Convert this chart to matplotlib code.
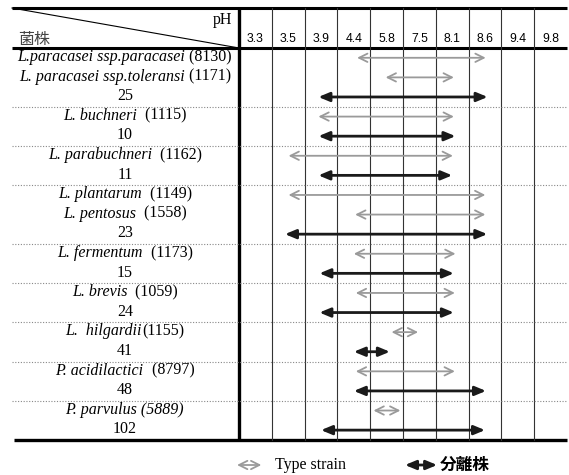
import matplotlib.pyplot as plt
from matplotlib.offsetbox import TextArea, HPacker, AnnotationBbox

# ---- データ ----
ph_labels = ['3.3', '3.5', '3.9', '4.4', '5.8', '7.5', '8.1', '8.6', '9.4', '9.8']

# 斜体部分 / 立体部分
row_species = ['L.paracasei ssp.paracasei', 'L. paracasei ssp.toleransi', '',
               'L. buchneri', '', 'L. parabuchneri', '', 'L. plantarum', 'L. pentosus', '',
               'L. fermentum', '', 'L. brevis', '', 'L.  hilgardii', '',
               'P. acidilactici', '', 'P. parvulus (5889)', '']
row_codes = [' (8130)', ' (1171)', '25', '  (1115)', '10', '  (1162)', '11', '  (1149)',
             '  (1558)', '23', '  (1173)', '15', '  (1059)', '24', '(1155)', '41',
             '  (8797)', '48', '', '102']
# 'type' = Type strain (gray), 'iso' = 分離株 (black)
row_kind = ['type', 'type', 'iso', 'type', 'iso', 'type', 'iso', 'type', 'type', 'iso',
            'type', 'iso', 'type', 'iso', 'type', 'iso', 'type', 'iso', 'type', 'iso']
# arrow start / end in column units (0 = left edge of 3.3 column)
arrow_start = [3.6, 4.47, 2.42, 2.42, 2.42, 1.51, 2.42, 1.51, 3.54, 1.4,
               3.5, 2.45, 3.56, 2.45, 4.65, 3.5, 3.56, 3.5, 4.1, 2.5]
arrow_end = [7.52, 6.55, 7.58, 6.55, 6.6, 6.52, 6.5, 7.51, 7.51, 7.57,
             6.6, 6.55, 6.58, 6.55, 5.46, 4.6, 6.58, 7.53, 4.92, 7.5]
group_breaks = [3, 5, 7, 10, 12, 14, 16, 18]

plt.rcParams['font.family'] = ['Liberation Serif', 'Noto Sans CJK JP']

fig = plt.figure(figsize=(5.69, 4.75), dpi=100)
ax = fig.add_axes([0, 0, 1, 1])
ax.set_xlim(-7.287, 10.06)
ax.set_ylim(21.79, -2.449)
ax.axis('off')

n_rows = len(row_species)
n_cols = len(ph_labels)
left = -6.92
top = -2.04
gray = '#9a9a9a'
dark = '#1a1a1a'
fs = 11.5

type_style = dict(arrowstyle='<->,head_length=0.6,head_width=0.3', color=gray,
                  lw=1.3, shrinkA=0, shrinkB=0)
iso_style = dict(arrowstyle='<|-|>,head_length=0.65,head_width=0.27', color=dark,
                 lw=2.0, shrinkA=0, shrinkB=0)

# 枠線
ax.plot([left, n_cols], [top, top], color='black', lw=2.2, solid_capstyle='butt')
ax.plot([left, n_cols], [0, 0], color='black', lw=2.2, solid_capstyle='butt')
ax.plot([left + 0.06, n_cols], [n_rows, n_rows], color='black', lw=2.4, solid_capstyle='butt')
ax.plot([0, 0], [top, n_rows], color='black', lw=2.4, solid_capstyle='butt')
for i in range(1, n_cols):
    ax.plot([i, i], [top, n_rows], color='#333333', lw=0.8)

# 斜線ヘッダー
ax.plot([left, 0], [top, 0], color='black', lw=0.8)
ax.text(-0.2, -1.43, 'pH', ha='right', va='center', fontsize=fs)
ax.text(-6.74, -0.41, '菌株', ha='left', va='center', fontsize=11.5,
        family=['Noto Sans CJK JP'], color='#444444')
for i, lab in enumerate(ph_labels):
    ax.text(i + 0.5, -0.45, lab, ha='center', va='center', fontsize=8.8,
            family=['Liberation Sans'])

# 点線区切り
for b in group_breaks:
    ax.plot([left, n_cols], [b, b], color='#888888', lw=0.8, linestyle=(0, (1, 1.5)))

# 行ラベルと矢印
for r in range(n_rows):
    y = r + 0.5
    parts = []
    if row_species[r]:
        parts.append(TextArea(row_species[r], textprops=dict(fontsize=fs, style='italic')))
    if row_codes[r]:
        parts.append(TextArea(row_codes[r], textprops=dict(fontsize=fs)))
    box = HPacker(children=parts, align='baseline', pad=0, sep=0)
    ab = AnnotationBbox(box, (-3.48, y), xycoords='data', frameon=False,
                        box_alignment=(0.5, 0.45), pad=0)
    ax.add_artist(ab)
    props = type_style if row_kind[r] == 'type' else iso_style
    ax.annotate('', xy=(arrow_end[r], y), xytext=(arrow_start[r], y), arrowprops=props)

# 凡例
ly = 21.28
ax.annotate('', xy=(0.68, ly), xytext=(-0.06, ly), arrowprops=type_style)
ax.text(1.1, ly, 'Type strain', ha='left', va='center', fontsize=fs)
ax.annotate('', xy=(6.04, ly), xytext=(5.06, ly), arrowprops=iso_style)
ax.text(6.13, ly, '分離株', ha='left', va='center', fontsize=12, fontweight='bold',
        family=['Noto Sans CJK JP'])

fig.savefig('out.png', dpi=100)
